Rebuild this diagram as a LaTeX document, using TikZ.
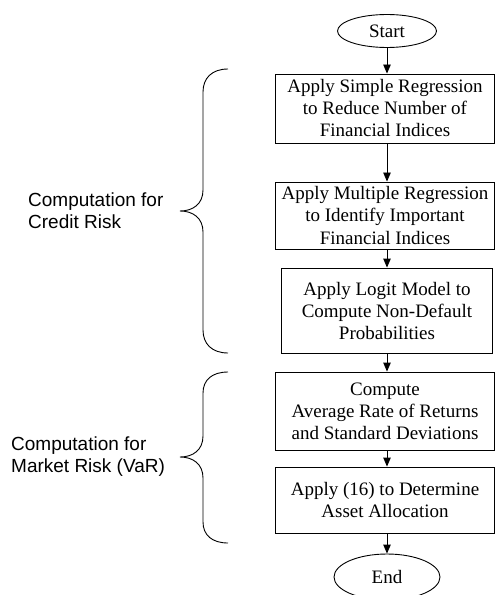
\documentclass[tikz,border=0pt]{standalone}
\usepackage{fontspec}
\setmainfont{Liberation Serif}
\newfontfamily\labelfont{Liberation Sans}
\usetikzlibrary{shapes.geometric,arrows.meta}
\tikzset{
  stepbox/.style={draw=black, line width=0.9bp, rectangle, inner sep=0pt, align=center,
    font=\fontsize{19bp}{22bp}\selectfont},
  terminal/.style={draw=black, line width=0.9bp, ellipse, inner sep=0pt, align=center,
    font=\fontsize{19bp}{22bp}\selectfont},
  flowarrow/.style={draw=black, line width=0.9bp, -{Triangle[length=9bp,width=7.5bp]}},
  bracepath/.style={draw=black, line width=0.9bp},
  sidelabel/.style={anchor=west, align=left, inner sep=0pt,
    font=\labelfont\fontsize{19bp}{22bp}\selectfont}
}
\begin{document}
\begin{tikzpicture}[x=1bp, y=-1bp]
\useasboundingbox (0,0) rectangle (496,595);

\node[terminal, minimum width=99bp, minimum height=33bp] (start) at (387,31) {Start};
\node[stepbox, minimum width=219bp, minimum height=69bp] (b1) at (385,108.5)
  {Apply Simple Regression\\to Reduce Number of\\Financial Indices};
\node[stepbox, minimum width=219bp, minimum height=67bp] (b2) at (385,215.5)
  {Apply Multiple Regression\\to Identify Important\\Financial Indices};
\node[stepbox, minimum width=211bp, minimum height=85bp] (b3) at (387,310.5)
  {Apply Logit Model to\\Compute Non-Default\\Probabilities};
\node[stepbox, minimum width=219bp, minimum height=78bp] (b4) at (385,411)
  {Compute\\Average Rate of Returns\\and Standard Deviations};
\node[stepbox, minimum width=219bp, minimum height=66bp] (b5) at (385,500)
  {Apply (16) to Determine\\Asset Allocation};
\node[terminal, minimum width=106bp, minimum height=46bp] (end) at (387,577) {End};

\draw[flowarrow] (start.south) -- (start.south |- b1.north);
\draw[flowarrow] (b1.south -| start.south) -- (start.south |- b2.north);
\draw[flowarrow] (b2.south -| start.south) -- (b3.north);
\draw[flowarrow] (b3.south) -- (b3.south |- b4.north);
\draw[flowarrow] (b4.south -| start.south) -- (start.south |- b5.north);
\draw[flowarrow] (b5.south -| end.north) -- (end.north);

% braces
\draw[bracepath] (228,69) .. controls (212,69) and (203,78) .. (203,92)
  -- (203,190) .. controls (203,204) and (193,211) .. (180,211)
  .. controls (193,211) and (203,218) .. (203,232)
  -- (203,330) .. controls (203,344) and (212,353) .. (228,353);
\draw[bracepath] (228,372) .. controls (212,372) and (203,380) .. (203,393)
  -- (203,436) .. controls (203,450) and (193,457) .. (180,457)
  .. controls (193,457) and (203,464) .. (203,478)
  -- (203,522) .. controls (203,535) and (212,543) .. (228,543);

\node[sidelabel] (credit) at (28,211) {Computation for\\Credit Risk};
\node[sidelabel] (market) at (11,457) {Computation for\\Market Risk (VaR)};
\end{tikzpicture}
\end{document}
